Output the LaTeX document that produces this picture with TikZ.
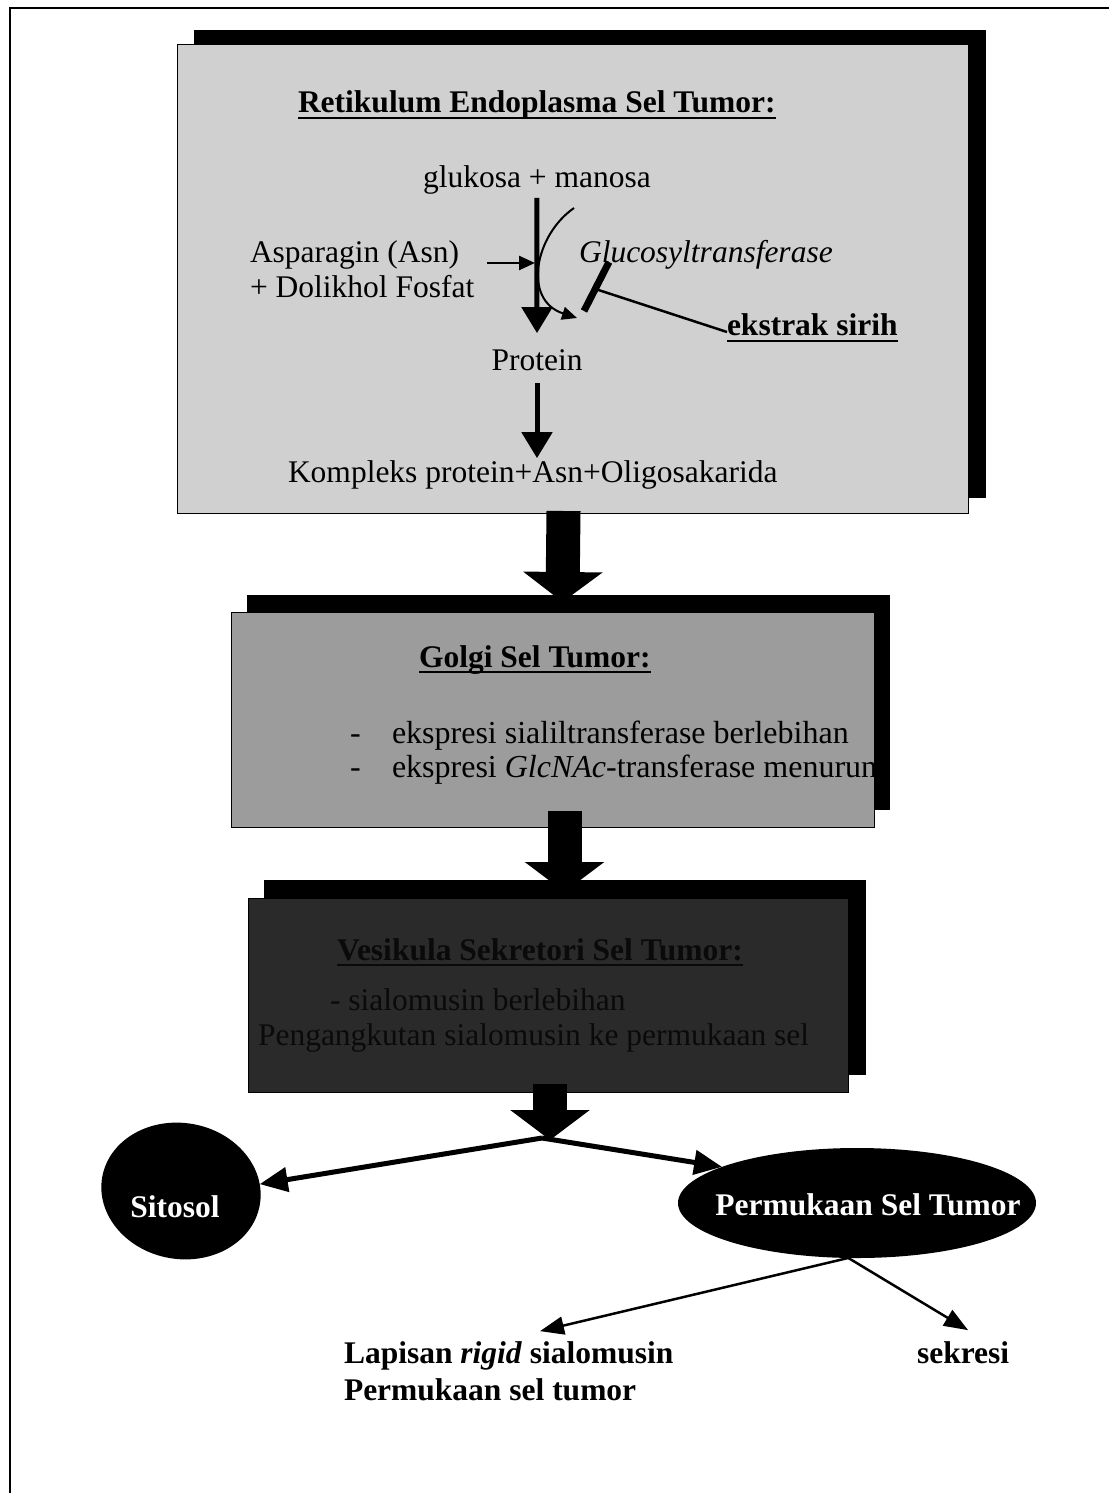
\documentclass[tikz,border=0pt]{standalone}
\usepackage{fontspec}
\setmainfont{Liberation Serif}
\usetikzlibrary{arrows.meta,shapes.geometric,calc}
\definecolor{erfill}{HTML}{D0D0D0}
\definecolor{golgifill}{HTML}{9C9C9C}
\definecolor{vesfill}{HTML}{2A2A2A}
\definecolor{vestext}{HTML}{0A0A0A}
\begin{document}
\begin{tikzpicture}[x=1pt,y=-1pt,
  every node/.style={inner sep=0pt, outer sep=0pt},
  txt/.style={font=\fontsize{31.5}{38}\selectfont},
  bultxt/.style={font=\fontsize{32}{38}\selectfont},
  btxt/.style={font=\fontsize{31.5}{38}\selectfont\bfseries},
  itxt/.style={font=\fontsize{31.5}{38}\selectfont\itshape},
  uline/.style={line width=2.5pt},
  organelle/.style={draw=black, line width=1pt, rectangle},
  thickarrow/.style={line width=5pt, -{Triangle[length=26pt,width=30pt]}},
  thinarrow/.style={line width=2.5pt, -{Triangle[length=16pt,width=14pt]}},
  curvearrow/.style={line width=2pt, -{Triangle[length=15pt,width=13pt]}},
  blockarrow/.style={line width=34pt, -{Triangle[length=30pt,width=78pt]}},
  splitarrow/.style={line width=5pt, -{Triangle[length=28pt,width=24pt]}},
  outarrow/.style={line width=2.5pt, -{Triangle[length=24pt,width=18pt]}},
  blob/.style={ellipse, fill=black},
  blobtxt/.style={font=\fontsize{31.5}{38}\selectfont\bfseries, text=white},
]
\useasboundingbox (0,0) rectangle (1109,1493);
\fill[white] (0,0) rectangle (1109,1493);

% page frame
\draw[line width=2pt] (10,1493) -- (10,8) -- (1109,8);

% ---------- Endoplasmic reticulum ----------
\fill[black] (194,30) rectangle (986,498);
\node[organelle, fill=erfill, minimum width=791pt, minimum height=468pt] (er) at (572.5,279) {};

\node[btxt, anchor=base west] (ertitle) at (298,113) {Retikulum Endoplasma Sel Tumor:};
\draw[uline] ($(ertitle.base west)+(0,5)$) -- ($(ertitle.base east)+(0,5)$);

\node[txt, anchor=base west] (gluman) at (423,187) {glukosa + manosa};
\node[txt, anchor=base west] (asn) at (250,262) {Asparagin (Asn)};
\node[txt, anchor=base west] (dolikhol) at (250,297) {+ Dolikhol Fosfat};
\node[itxt, anchor=base west] (gtase) at (579,262) {Glucosyltransferase};
\node[btxt, anchor=base west] (ekstrak) at (727,335) {ekstrak sirih};
\draw[uline] ($(ekstrak.base west)+(0,6)$) -- ($(ekstrak.base east)+(0,6)$);
\node[txt, anchor=base] (protein) at (537,370) {Protein};
\node[txt, anchor=base west] (kompleks) at (288,482) {Kompleks protein+Asn+Oligosakarida};

% reaction arrows
\draw[thickarrow] ($(gluman.south)+(0,4)$) -- ($(protein.north)+(0,-16)$);
\coordinate (kin) at (kompleks.north -| protein.south);
\draw[thickarrow] ($(protein.south)+(0,13)$) -- ($(kin)+(0,-2)$);

\coordinate (curveA) at (574,208);
\coordinate (curveB) at (577,318);
\draw[curvearrow] (curveA) .. controls (535,235) and (522,300) .. (curveB);

\coordinate (asnin) at (487,263);
\coordinate (asnout) at (535,263);
\draw[thinarrow] (asnin) -- (asnout);

% inhibition by the extract
\coordinate (barA) at (609,262);
\coordinate (barB) at (584,311);
\draw[line width=7pt] (barA) -- (barB);
\draw[line width=2.5pt] ($(ekstrak.base west)+(0,-3)$) -- ($(barA)!0.55!(barB)$);

% ---------- ER -> Golgi ----------
\draw[blockarrow] ($(er.south)+(-9,-2)$) -- (562.5,602);

% ---------- Golgi ----------
\fill[black] (247,595) rectangle (890,810);
\node[organelle, fill=golgifill, minimum width=643pt, minimum height=215pt] (golgi) at (552.5,719.5) {};
\node[btxt, anchor=base west] (gtitle) at (419,667) {Golgi Sel Tumor:};
\draw[uline] ($(gtitle.base west)+(0,5)$) -- ($(gtitle.base east)+(0,5)$);
\begin{scope}
  \clip (231,612) rectangle (874,827);
  \node[bultxt, anchor=base west] (gdashA) at (350,743) {-};
  \node[bultxt, anchor=base west] (gitemA) at (392,743) {ekspresi sialiltransferase berlebihan};
  \node[bultxt, anchor=base west] (gdashB) at (350,777) {-};
  \node[bultxt, anchor=base west] (gitemB) at (392,777) {ekspresi \textit{GlcNAc}-transferase menurun};
\end{scope}

% ---------- Golgi -> vesicle ----------
\draw[blockarrow] ($(golgi.south)+(12,-16)$) -- (564.5,892);

% ---------- Vesicle ----------
\fill[black] (264,880) rectangle (866,1075);
\node[organelle, fill=vesfill, minimum width=600pt, minimum height=194pt] (vesikel) at (548,995) {};
\node[btxt, text=vestext, anchor=base] (vtitle) at (540,960) {Vesikula Sekretori Sel Tumor:};
\draw[uline, draw=vestext] ($(vtitle.base west)+(0,5)$) -- ($(vtitle.base east)+(0,5)$);
\node[txt, text=vestext, anchor=base west] (vitemA) at (330,1010) {- sialomusin berlebihan};
\node[txt, text=vestext, anchor=base west] (vitemB) at (258,1045) {Pengangkutan sialomusin ke permukaan sel};

% ---------- vesicle -> destinations ----------
\coordinate (split) at (550,1140);
\draw[blockarrow] ($(vesikel.south)+(2,-8)$) -- (split);

\node[blob, minimum width=160pt, minimum height=136pt, rotate=-10] (sitosol) at (181,1191) {};
\node[blobtxt, anchor=base] (sitosolT) at (175,1217) {Sitosol};
\node[blob, minimum width=358pt, minimum height=110pt] (permukaan) at (857,1203) {};
\node[blobtxt, anchor=base] (permukaanT) at (868,1215) {Permukaan Sel Tumor};

\draw[splitarrow] ($(split)+(-8,-2)$) -- (sitosol.15);
\draw[splitarrow] ($(split)+(-8,-2)$) -- (permukaan.165);

% ---------- cell surface outcomes ----------
\node[btxt, anchor=base west] (lapisan) at (344,1363) {Lapisan \textit{rigid} sialomusin};
\node[btxt, anchor=base west] (lapisanB) at (344,1400) {Permukaan sel tumor};
\node[btxt, anchor=base west] (sekresi) at (917,1363) {sekresi};

\coordinate (permfoot) at (permukaan.261);
\draw[outarrow] (permfoot) -- ($(lapisan.north west)+(196,-10)$);
\draw[outarrow] (permfoot) -- ($(sekresi.north)+(5,-11)$);
\end{tikzpicture}
\end{document}
